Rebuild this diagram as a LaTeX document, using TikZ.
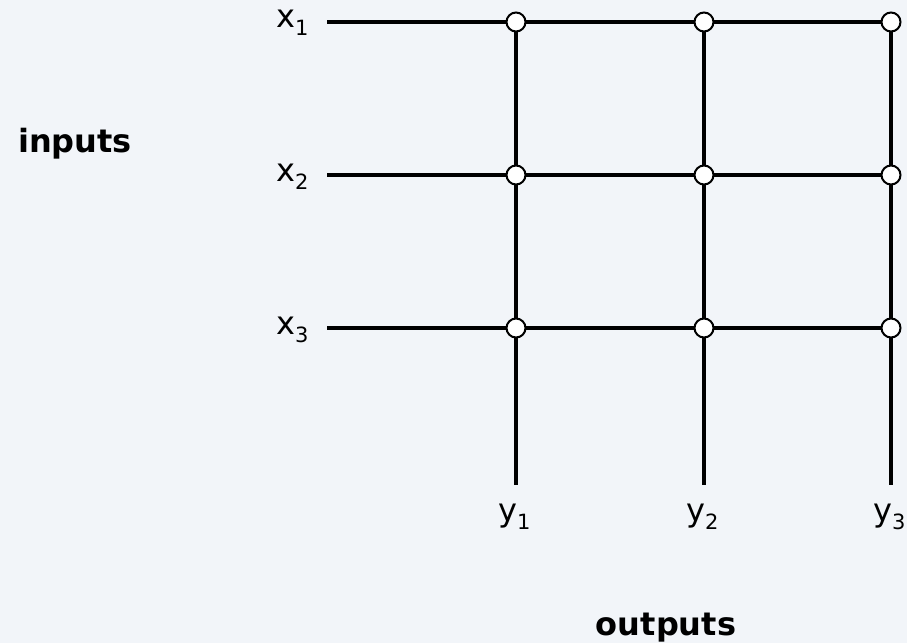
\documentclass[tikz,border=0pt]{standalone}
\usepackage{fontspec}
\setmainfont{DejaVu Sans}
\definecolor{bgpale}{HTML}{F2F5F9}
\newcommand\sublab[2]{#1\raisebox{-8pt}{\fontsize{21}{21}\selectfont #2}}
\begin{document}
\begin{tikzpicture}[x=1pt,y=-1pt,
  wire/.style={line width=3.5pt},
  junction/.style={circle,draw,fill=white,line width=2pt,minimum size=19pt,inner sep=0pt},
  varlabel/.style={inner sep=0pt,font=\fontsize{32}{34}\selectfont},
  heading/.style={inner sep=0pt,font=\fontsize{32}{34}\selectfont\bfseries}]
  % canvas
  \fill[bgpale] (0,0) rectangle (907,643);
  \useasboundingbox (0,0) rectangle (907,643);

  % grid points
  \foreach \r/\yy in {1/22,2/175,3/328}{
    \coordinate (a\r) at (327,\yy);
    \foreach \c/\xx in {1/516,2/704,3/891}{
      \coordinate (p\r\c) at (\xx,\yy);
    }
  }
  \foreach \c/\xx in {1/516,2/704,3/891}{
    \coordinate (b\c) at (\xx,485);
  }

  % input wires
  \foreach \r in {1,2,3}{
    \draw[wire] (a\r) -- (p\r3);
  }
  % output wires
  \foreach \c in {1,2,3}{
    \draw[wire] (p1\c) -- (b\c);
  }
  % junctions
  \foreach \r in {1,2,3}{
    \foreach \c in {1,2,3}{
      \node[junction] (j\r\c) at (p\r\c) {};
    }
  }

  % input labels
  \node[varlabel,anchor=base west] (x1) at (276,27) {\sublab{x}{1}};
  \node[varlabel,anchor=base west] (x2) at (276,181) {\sublab{x}{2}};
  \node[varlabel,anchor=base west] (x3) at (276,334) {\sublab{x}{3}};

  % output labels
  \node[varlabel,anchor=base west] (y1) at (498,521) {\sublab{y}{1}};
  \node[varlabel,anchor=base west] (y2) at (686,521) {\sublab{y}{2}};
  \node[varlabel,anchor=base west] (y3) at (873,521) {\sublab{y}{3}};

  % headings
  \node[heading,anchor=base] (inputs) at (75,152) {inputs};
  \node[heading,anchor=base] (outputs) at (666,635) {outputs};
\end{tikzpicture}
\end{document}
